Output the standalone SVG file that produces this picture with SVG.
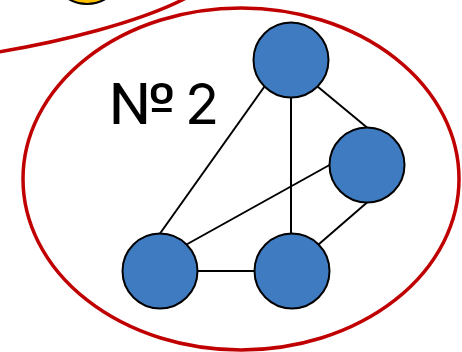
<svg xmlns="http://www.w3.org/2000/svg" width="462" height="352" viewBox="0 0 462 352">
  <style>
    .group { fill: none; stroke: #C00000; stroke-width: 3.5; }
    .node { fill: #3F7BC0; stroke: #000; stroke-width: 2; }
    .edge { stroke: #000; stroke-width: 2; fill: none; }
    .label { font-family: Inter, "DejaVu Sans", sans-serif; font-size: 56px; fill: #000; }
  </style>
  <rect width="462" height="352" fill="#fff"/>
  <!-- neighbouring group, partly off-canvas -->
  <g id="group1">
    <circle cx="87" cy="-32" r="36" fill="#FFC000" stroke="#000" stroke-width="2"/>
    <path class="group" d="M -2 52 C 60 42, 140 22, 186 -2"/>
  </g>
  <!-- group 2 -->
  <g id="group2">
    <ellipse class="group" cx="241" cy="179" rx="218" ry="171"/>
    <text class="label" transform="translate(108,124) scale(1.14,1)">№</text>
    <text class="label" x="185" y="124">2</text>
  </g>
  <!-- edges join the nodes at their 45° connection points -->
  <g id="edges">
    <line class="edge" x1="160" y1="233.5" x2="264.5" y2="86.5"/>
    <line class="edge" x1="291" y1="97.5" x2="291" y2="233.5"/>
    <line class="edge" x1="317.5" y1="86.5" x2="367" y2="127.5"/>
    <line class="edge" x1="186.5" y1="244.5" x2="329.5" y2="165"/>
    <line class="edge" x1="197.5" y1="271" x2="254.5" y2="271"/>
    <line class="edge" x1="318.5" y1="244.5" x2="367" y2="202.5"/>
  </g>
  <g id="node-top"><circle class="node" cx="291" cy="60" r="37.5"/></g>
  <g id="node-right"><circle class="node" cx="367" cy="165" r="37.5"/></g>
  <g id="node-bottom-left"><circle class="node" cx="160" cy="271" r="37.5"/></g>
  <g id="node-bottom-right"><circle class="node" cx="292" cy="271" r="37.5"/></g>
</svg>
